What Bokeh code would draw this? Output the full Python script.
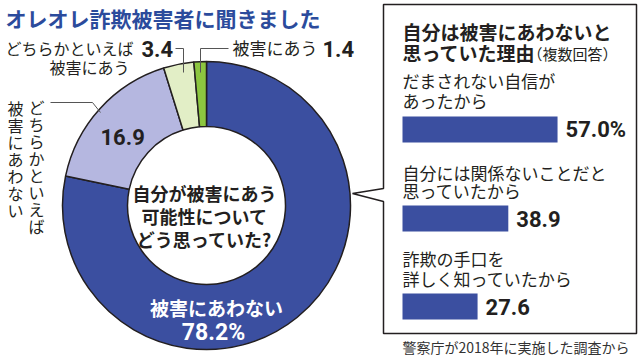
import numpy as np
from bokeh.plotting import figure
from bokeh.models import Range1d, ColumnDataSource
from bokeh.core.properties import value
from bokeh.embed import file_html
from bokeh.resources import INLINE

# ---------------- data ----------------
title = "オレオレ詐欺被害者に聞きました"
pie_labels = ["被害にあわない", "どちらかといえば被害にあわない",
              "どちらかといえば被害にあう", "被害にあう"]
pie_values = [78.2, 16.9, 3.4, 1.4]
pie_value_labels = ["78.2%", "16.9", "3.4", "1.4"]
pie_colors = ["#3b4fa0", "#b5b7e0", "#e2eec6", "#8cc63f"]
center_question = ["自分が被害にあう", "可能性について", "どう思っていた?"]
box_title = ["自分は被害にあわないと", "思っていた理由"]
box_note = "（複数回答）"
reason_line1 = ["だまされない自信が", "自分には関係ないことだと", "詐欺の手口を"]
reason_line2 = ["あったから", "思っていたから", "詳しく知っていたから"]
reason_values = [57.0, 38.9, 27.6]
reason_value_labels = ["57.0%", "38.9", "27.6"]
source_note = "警察庁が2018年に実施した調査から"

JP = value("Noto Sans CJK JP")
NUM = value("Roboto")
INK = "#231f20"
BLUE_T = "#2b4b9c"

# ---------------- figure (page-pixel coordinates) ----------------
W, H = 640, 358
p = figure(width=W, height=H, x_range=Range1d(0, W), y_range=Range1d(H, 0),
           output_backend="svg", toolbar_location=None,
           x_axis_location=None, y_axis_location=None, min_border=0)
p.grid.visible = False
p.outline_line_color = None
p.background_fill_color = "white"
p.border_fill_color = "white"

# bar scale: extra x range so that value 0 sits at x=402 and 1% = 2.72px
k = 2.72
x0 = 402
p.extra_x_ranges["bar"] = Range1d((0 - x0) / k, (W - x0) / k)

# ---------------- title ----------------
p.text(x=[5], y=[17], text=[title], text_font=JP, text_font_style="bold",
       text_font_size="21px", text_color=BLUE_T, text_baseline="middle", text_align="left")

# ---------------- donut ----------------
cx, cy, R_out, R_in = 206, 205, 144, 79
vals = np.array(pie_values)
frac = np.cumsum(vals) / vals.sum()
ends = np.pi / 2 - 2 * np.pi * frac
starts = np.concatenate([[np.pi / 2], ends[:-1]])
src = ColumnDataSource(dict(start=ends, end=starts, color=pie_colors, label=pie_labels))
p.annular_wedge(x=cx, y=cy, inner_radius=R_in, outer_radius=R_out,
                start_angle="start", end_angle="end", fill_color="color",
                line_color=INK, line_width=1.5, source=src)

# centre question
p.text(x=[204] * 3, y=[192, 215, 238], text=center_question, text_font=JP,
       text_font_style="bold", text_font_size="18px", text_color=INK,
       text_align="center", text_baseline="middle")

# main slice labels
p.text(x=[216], y=[307], text=[pie_labels[0]], text_font=JP, text_font_style="bold",
       text_font_size="19px", text_color="white", text_align="center", text_baseline="middle")
p.text(x=[213], y=[332], text=[pie_value_labels[0]], text_font=NUM, text_font_style="bold",
       text_font_size="23px", text_color="white", text_align="center", text_baseline="middle")

# 16.9 slice
p.text(x=[100], y=[136], text=[pie_value_labels[1]], text_font=NUM, text_font_style="bold",
       text_font_size="22px", text_color=INK, text_align="left", text_baseline="middle")
vert2 = "どちらかといえば"
vert1 = "被害にあわない"
p.text(x=[36, 15], y=[94, 95], text=["\n".join(vert2), "\n".join(vert1)], text_font=JP,
       text_font_size="16px", text_color=INK, text_align="center", text_baseline="top",
       text_line_height=0.71)
p.line(x=[50, 92, 100], y=[102, 102, 112], line_color="#555555", line_width=1)

# 3.4 slice
p.text(x=[5], y=[47], text=["どちらかといえば"], text_font=JP, text_font_size="16px",
       text_color=INK, text_align="left", text_baseline="middle")
p.text(x=[89], y=[66], text=["被害にあう"], text_font=JP, text_font_size="16px",
       text_color=INK, text_align="center", text_baseline="middle")
p.text(x=[141], y=[48], text=[pie_value_labels[2]], text_font=NUM, text_font_style="bold",
       text_font_size="22px", text_color=INK, text_align="left", text_baseline="middle")
p.line(x=[175, 183, 183], y=[48, 48, 72], line_color="#555555", line_width=1)

# 1.4 slice
p.line(x=[200, 200, 228], y=[72, 48, 48], line_color="#555555", line_width=1)
p.text(x=[232], y=[47], text=["被害にあう"], text_font=JP, text_font_size="17px",
       text_color=INK, text_align="left", text_baseline="middle")
p.text(x=[322], y=[48], text=[pie_value_labels[3]], text_font=NUM, text_font_style="bold",
       text_font_size="22px", text_color=INK, text_align="left", text_baseline="middle")

# ---------------- call-out box ----------------
bx = [383, 636, 636, 383, 383, 352, 383, 383]
by = [4, 4, 333, 333, 201, 193, 188, 4]
p.patch(x=bx, y=by, fill_color="white", line_color=INK, line_width=1.5)

p.text(x=[402, 402], y=[31, 52], text=box_title, text_font=JP, text_font_style="bold",
       text_font_size="19px", text_color=INK, text_align="left", text_baseline="middle")
p.text(x=[527], y=[53], text=[box_note], text_font=JP, text_font_size="15px",
       text_color=INK, text_align="left", text_baseline="middle")

bar_y = [129, 218, 306]
line1_y = [80, 172, 258]
line2_y = [100, 190, 278]
p.text(x=[402] * 3, y=line1_y, text=reason_line1, text_font=JP, text_font_size="17px",
       text_color=INK, text_align="left", text_baseline="middle")
p.text(x=[402] * 3, y=line2_y, text=reason_line2, text_font=JP, text_font_size="17px",
       text_color=INK, text_align="left", text_baseline="middle")
bsrc = ColumnDataSource(dict(y=bar_y, v=reason_values, lab=reason_value_labels))
p.hbar(y="y", left=0, right="v", height=26, fill_color=pie_colors[0], line_color=None,
       source=bsrc, x_range_name="bar")
p.text(x="v", y="y", text="lab", x_offset=8, text_font=NUM, text_font_style="bold",
       text_font_size="22px", text_color=INK, text_align="left", text_baseline="middle",
       source=bsrc, x_range_name="bar")

# ---------------- source ----------------
p.text(x=[629], y=[346], text=[source_note], text_font=JP, text_font_size="14px",
       text_color="#333333", text_align="right", text_baseline="middle")

open("out.html", "w").write(file_html(p, INLINE))
